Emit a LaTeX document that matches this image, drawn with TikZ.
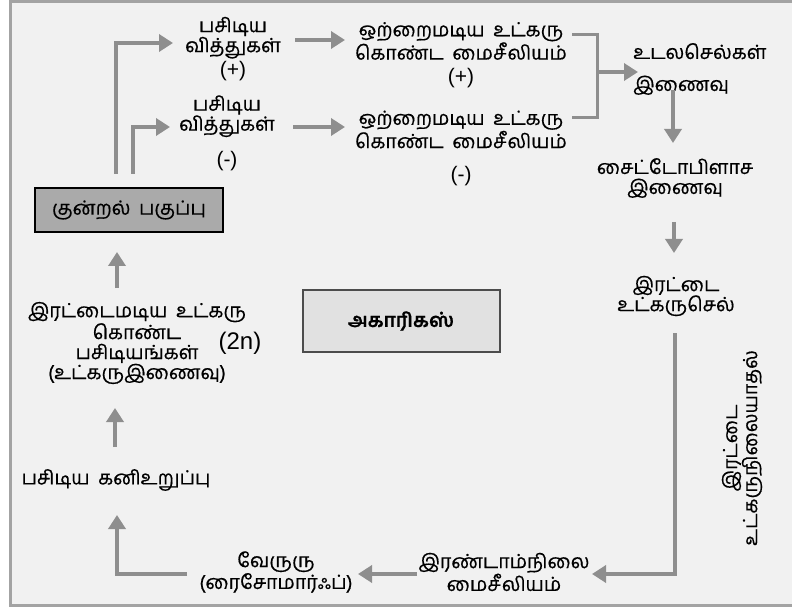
\documentclass[tikz,border=0pt]{standalone}
\usepackage{fontspec}
\setmainfont{Liberation Sans}
\newfontfamily\tamilfont[Script=Tamil,WordSpace=1.8,FakeBold=0.5]{Hind Madurai}
\newcommand\sgnmark[1]{{\normalfont\fontsize{21}{20}\selectfont(#1)}}
\usetikzlibrary{arrows.meta}
\definecolor{bggray}{HTML}{F1F1F1}
\definecolor{linegray}{HTML}{8E8E8E}
\definecolor{framegray}{HTML}{A3A3A3}
\definecolor{boxdark}{HTML}{AAAAAA}
\definecolor{boxlight}{HTML}{E1E1E1}

\begin{document}
\begin{tikzpicture}[x=1pt, y=-1pt,
  txt/.style={align=center, inner sep=0pt, font=\tamilfont\fontsize{19.5}{20}\selectfont},
  flow/.style={draw=linegray, line width=4pt, -{Triangle[width=17pt,length=14pt]}},
  joinline/.style={draw=linegray, line width=3pt}]
\useasboundingbox (0,0) rectangle (792,612);
% frame
\draw[framegray, line width=3pt, fill=bggray] (10,2) rectangle (800,605);
% boxes
\node[txt, draw=black, line width=2pt, fill=boxdark, minimum width=188, minimum height=44] (kp) at (129,210) {குன்றல் பகுப்பு};
\node[txt, draw=black!70, line width=2pt, fill=boxlight, minimum width=197, minimum height=62, font=\tamilfont\bfseries\fontsize{19.5}{20}\selectfont] (ag) at (401,321) {அகாரிகஸ்};
% spores and mycelia
\node[txt] (pv1) at (233,49) {பசிடிய\\வித்துகள்\\[2pt]\sgnmark{+}};
\node[txt] (pv2) at (227,133) {பசிடிய\\வித்துகள்\\[13pt]\sgnmark{-}};
\node[txt] (om1) at (461,55) {ஒற்றைமடிய உட்கரு\\கொண்ட மைசீலியம்\\[4pt]\sgnmark{+}};
\node[txt] (om2) at (461,148) {ஒற்றைமடிய உட்கரு\\கொண்ட மைசீலியம்\\[13pt]\sgnmark{-}};
% right side
\node[txt, align=left, anchor=west] (uc) at (633,69) {உடலசெல்கள்\\[12pt]இணைவு};
\node[txt] (sc) at (675,178) {சைட்டோபிளாச\\இணைவு};
\node[txt] (ir) at (676,296) {இரட்டை\\உட்கருசெல்};
\node[txt, rotate=90] (rot) at (742,448) {இரட்டை\\உட்கருநிலையாதல்};
% bottom and left
\node[txt] (sm) at (504,572) {இரண்டாம்நிலை\\மைசீலியம்};
\node[txt] (ver) at (276,572) {வேருரு\\(ரைசோமார்ஃப்)};
\node[txt] (fb) at (116,480) {பசிடிய கனிஉறுப்பு};
\node[txt] (dk) at (137,343) {இரட்டைமடிய உட்கரு\\கொண்ட\\பசிடியங்கள்\\(உட்கருஇணைவு)};
\node[font=\fontsize{24}{24}\selectfont, inner sep=0pt] (n2) at (240,343) {(2n)};

% arrows
\draw[flow] ([shift={(-13,-13)}]kp.north) |- ([shift={(-60,-6)}]pv1.center);
\draw[flow] ([shift={(4,-13)}]kp.north) |- ([shift={(-57,-6)}]pv2.center);
\draw[flow] ([shift={(62,-9)}]pv1.center) -- ([shift={(-116,-15)}]om1.center);
\draw[flow] ([shift={(66,-6)}]pv2.center) -- ([shift={(-116,-21)}]om2.center);
\draw[joinline] ([shift={(111,-20)}]om1.center) -| ([shift={(136,-30)}]om2.center) -- ([shift={(111,-30)}]om2.center);
\coordinate (bj) at (597,72);
\draw[flow] (bj) -- ([shift={(5,3)}]uc.west);
\draw[flow] ([shift={(40,21)}]uc.west) -- ([shift={(-2,-35)}]sc.center);
\draw[flow] ([shift={(-1,44)}]sc.center) -- ([shift={(-2,-43)}]ir.center);
\draw[flow] ([shift={(-1,37)}]ir.center) |- ([shift={(88,2)}]sm.center);
\draw[flow] ([shift={(-87,2)}]sm.center) -- ([shift={(82,2)}]ver.center);
\draw[flow] ([shift={(-89,2)}]ver.center) -| ([shift={(1,35)}]fb.center);
\draw[flow] ([shift={(-1,-33)}]fb.center) -- ([shift={(-22,65)}]dk.center);
\draw[flow] ([shift={(-20,-55)}]dk.center) -- ([shift={(-12,42)}]kp.center);
\end{tikzpicture}
\end{document}
